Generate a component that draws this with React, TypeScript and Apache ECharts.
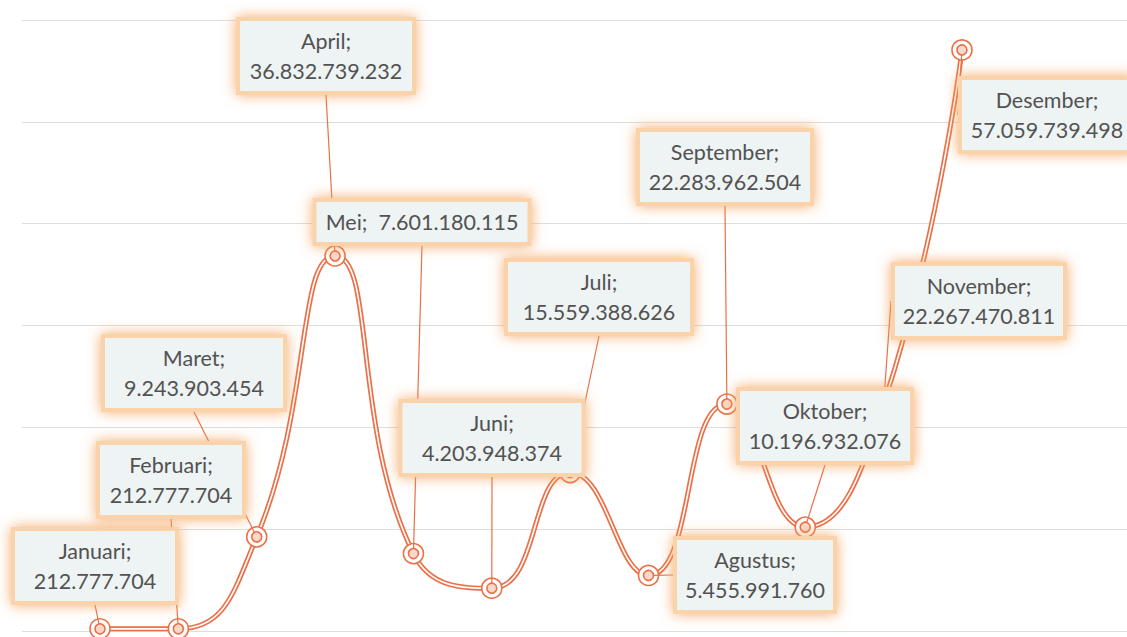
import React, { useEffect, useRef } from 'react';
import * as echarts from 'echarts';

// ---- data ----
const months = ['Januari', 'Februari', 'Maret', 'April', 'Mei', 'Juni', 'Juli', 'Agustus', 'September', 'Oktober', 'November', 'Desember'];
const values = [212777704, 212777704, 9243903454, 36832739232, 7601180115, 4203948374, 15559388626, 5455991760, 22283962504, 10196932076, 22267470811, 57059739498];
const yMin = 0;
const yMax = 60000000000;
const yInterval = 10000000000;

// ---- label box layout (styling): centre, box width, leader attach point, optional elbow ----
const boxCx = [95, 171, 194, 326, 422, 492, 599, 755, 725, 825, 979, 1047];
const boxCy = [566, 480, 373, 56, 222, 438, 297, 575, 167, 426, 301, 115];
const boxW = [160, 142, 178, 172, 211, 179, 182, 156, 170, 170, 168, 170];
const attachX = [97, 172, 203, 328, 422, 492, 597, 677, 724, 824, 895, 1045];
const attachY = [601, 514, 408, 91, 242, 473, 332, 578, 202, 461, 300, 80];
const elbow = [false, false, false, false, false, false, false, false, false, false, true, false];

const ORANGE = '#ec6f47';
const PAD_X = 8;

function fmt(v: number): string {
  return String(v).replace(/\B(?=(\d{3})+(?!\d))/g, '.');
}

export default function App() {
  const ref = useRef<HTMLDivElement>(null);
  useEffect(() => {
    document.body.style.margin = '0';
    if (!ref.current) return;
    const chart = echarts.init(ref.current, null, { renderer: 'svg' });
    const pts = values.map((v, i) => [i, v]);
    const step = 78.36;
    const firstX = 100;
    const gridLeft = 22;
    const width = 1127;

    const option: any = {
      animation: false,
      backgroundColor: '#ffffff',
      grid: { left: gridLeft, right: 0, top: 20, bottom: 6, containLabel: false },
      xAxis: {
        type: 'value',
        min: (gridLeft - firstX) / step,
        max: (width - firstX) / step,
        show: false,
      },
      yAxis: {
        type: 'value',
        min: yMin,
        max: yMax,
        interval: yInterval,
        axisLabel: { show: false },
        axisLine: { show: false },
        axisTick: { show: false },
        splitLine: { lineStyle: { color: '#d9dfdf', width: 1 } },
      },
      series: [
        {
          type: 'line',
          data: pts,
          smooth: 0.5,
          clip: false,
          showSymbol: false,
          lineStyle: { color: ORANGE, width: 5 },
          z: 2,
          silent: true,
        },
        {
          type: 'line',
          data: pts,
          smooth: 0.5,
          clip: false,
          showSymbol: false,
          lineStyle: { color: '#ffffff', width: 1.6 },
          z: 3,
          silent: true,
        },
        {
          type: 'line',
          data: pts,
          clip: false,
          symbol: 'circle',
          symbolSize: 20,
          lineStyle: { opacity: 0, width: 0 },
          itemStyle: { color: '#ffffff', borderColor: ORANGE, borderWidth: 1.6 },
          z: 4,
          silent: true,
        },
        {
          type: 'line',
          data: pts,
          clip: false,
          symbol: 'circle',
          symbolSize: 10,
          lineStyle: { opacity: 0, width: 0 },
          itemStyle: { color: '#fbd9ca', borderColor: ORANGE, borderWidth: 1.6 },
          z: 5,
          silent: true,
          label: {
            show: true,
            position: 'top',
            formatter: (p: any) => {
              const i = p.dataIndex;
              return months[i] + ';' + (i === 4 ? '  ' : '\n') + fmt(values[i]);
            },
            fontFamily: 'Lato',
            fontSize: 21.5,
            lineHeight: 30,
            color: '#525252',
            backgroundColor: '#eef3f3',
            borderColor: '#fbd3ab',
            borderWidth: 4,
            shadowBlur: 14,
            shadowColor: 'rgba(243,160,90,0.9)',
            padding: [5, PAD_X],
            align: 'center',
            verticalAlign: 'middle',
          },
          labelLine: { show: true, lineStyle: { color: ORANGE, width: 1.2 } },
          labelLayout: (params: any) => {
            const i = params.dataIndex;
            const r = params.rect;
            const px = r.x + r.width / 2;
            const py = r.y + r.height / 2;
            const ax = attachX[i];
            const ay = attachY[i];
            let mid: number[];
            let target: number[];
            if (elbow[i]) {
              mid = [px, ay];
              target = mid;
            } else {
              mid = [(px + ax) / 2, (py + ay) / 2];
              target = [ax, ay];
            }
            const dx = target[0] - px;
            const dy = target[1] - py;
            const len = Math.sqrt(dx * dx + dy * dy) || 1;
            const start = [px + (dx / len) * 10, py + (dy / len) * 10];
            return {
              x: boxCx[i],
              y: boxCy[i],
              width: boxW[i] - 2 * PAD_X,
              align: 'center',
              verticalAlign: 'middle',
              labelLinePoints: [start, mid, [ax, ay]],
            };
          },
        },
      ],
    };
    chart.setOption(option);
    return () => chart.dispose();
  }, []);
  return <div ref={ref} style={{ width: 1127, height: 637 }} />;
}
